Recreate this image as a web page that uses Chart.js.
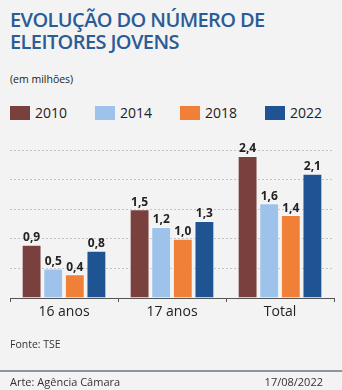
<!DOCTYPE html>
<html><head><meta charset="utf-8">
<script src="https://cdn.jsdelivr.net/npm/chart.js@4/dist/chart.umd.min.js"></script>
<style>
html,body{margin:0;padding:0;background:#f3f3f3;width:342px;height:390px;overflow:hidden;font-family:"Open Sans",sans-serif;}
#wrap{position:relative;width:342px;height:390px;}
#title{position:absolute;left:10px;top:9px;font-size:20px;font-weight:600;line-height:22px;color:#2b5c95;letter-spacing:-0.6px;}
#unit{position:absolute;left:10px;top:72px;font-size:10.5px;color:#222;}
#legend{position:absolute;left:0;top:103px;height:16px;}
.li{position:absolute;top:0;display:flex;align-items:center;font-size:14px;color:#222;}
.sw{width:20px;height:14px;margin-right:5px;}
#src{position:absolute;left:10px;top:337px;font-size:10.5px;color:#333;}
#sep{position:absolute;left:0;top:370px;width:342px;height:2px;background:#8d949c;}
#arte{position:absolute;left:10px;top:374px;font-size:11px;color:#333;}
#date{position:absolute;right:19px;top:374px;font-size:11px;color:#333;}
canvas{position:absolute;left:0;top:0;}
</style></head>
<body><div id="wrap">
<div id="title">EVOLUÇÃO DO NÚMERO DE<br>ELEITORES JOVENS</div>
<div id="unit">(em milhões)</div>
<div id="legend"></div>
<canvas id="c" width="342" height="390"></canvas>
<div id="src">Fonte: TSE</div>
<div id="sep"></div>
<div id="arte">Arte: Agência Câmara</div>
<div id="date">17/08/2022</div>
</div>
<script>
const categories = ["16 anos", "17 anos", "Total"];
const seriesNames = ["2010", "2014", "2018", "2022"];
const s2010 = [0.9, 1.5, 2.4];
const s2014 = [0.5, 1.2, 1.6];
const s2018 = [0.4, 1.0, 1.4];
const s2022 = [0.8, 1.3, 2.1];
const yTicks = [0, 0.5, 1.0, 1.5, 2.0, 2.5];
const colors = ["#7a403d", "#9dc3ea", "#f07f37", "#1f5492"];

const values = [s2010, s2014, s2018, s2022];
const leg = document.getElementById('legend');
seriesNames.forEach((n,i)=>{
  const d=document.createElement('div');d.className='li';d.style.left=(10+85*i)+'px';
  d.innerHTML='<div class="sw" style="background:'+colors[i]+'"></div><span>'+n+'</span>';
  leg.appendChild(d);
});

const labelPlugin = {
  id:'vlabels',
  afterDatasetsDraw(chart){
    const ctx=chart.ctx;ctx.save();
    ctx.font='bold 12px "Open Sans"';ctx.fillStyle='#222';ctx.textAlign='center';ctx.textBaseline='bottom';
    chart.data.datasets.forEach((ds,di)=>{
      chart.getDatasetMeta(di).data.forEach((bar,i)=>{
        ctx.fillText(ds.data[i].toFixed(1).replace('.',','), bar.x, bar.y-1);
      });
    });
    ctx.restore();
  }
};

new Chart(document.getElementById('c'),{
  type:'bar',
  data:{labels:categories,datasets:seriesNames.map((n,i)=>({label:n,data:values[i],backgroundColor:colors[i],borderColor:'rgba(255,255,255,0.45)',borderWidth:1,categoryPercentage:0.8,barPercentage:0.92}))},
  options:{
    responsive:false,animation:false,
    layout:{padding:{left:10,right:8,top:150,bottom:65}},
    plugins:{legend:{display:false},tooltip:{enabled:false}},
    scales:{
      x:{grid:{display:true,drawOnChartArea:false,offset:true,color:'#555',tickLength:4},
         border:{display:true,color:'#555',width:1},
         ticks:{font:{size:14,family:'"Open Sans"'},color:'#222',padding:2},
         afterFit(s){s.height=27;}},
      y:{min:0,max:2.5,
         afterBuildTicks(s){s.ticks=yTicks.map(v=>({value:v}));},
         ticks:{display:false},
         grid:{drawTicks:false,color:(c)=>c.tick.value===0?'rgba(0,0,0,0)':'#c4c4c4'},
         border:{display:false,dash:[2,2]},
         afterFit(s){s.width=0;}}
    }
  },
  plugins:[labelPlugin]
});
</script>
</body></html>
